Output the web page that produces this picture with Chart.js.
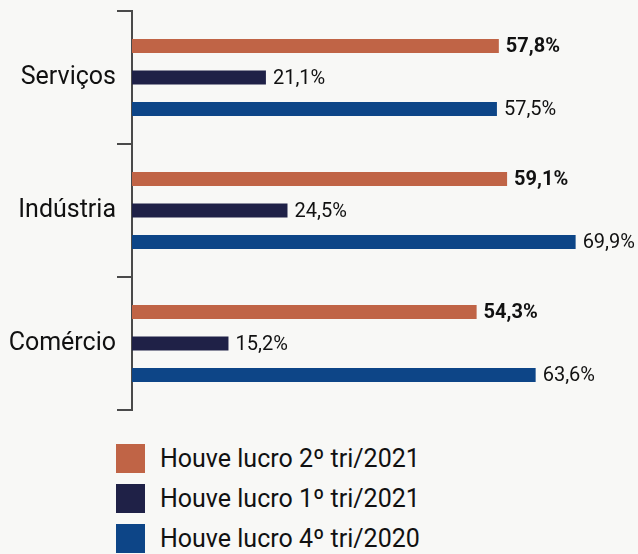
<!DOCTYPE html>
<html>
<head>
<meta charset="utf-8">
<script src="https://cdn.jsdelivr.net/npm/chart.js@4"></script>
<style>
  body { margin: 0; background: #f8f8f6; font-family: Roboto, sans-serif; }
  #wrap { position: relative; width: 638px; height: 554px; overflow: hidden; }
  #box { position: absolute; left: 0; top: 0; width: 638px; height: 420px; }
  #legend { position: absolute; left: 116px; top: 444px; margin: 0; padding: 0; list-style: none; }
  #legend li { display: flex; align-items: center; height: 29px; margin-bottom: 11px; font-size: 25px; color: #111; }
  #legend span.sw { width: 29px; height: 29px; margin-right: 15px; }
</style>
</head>
<body>
<div id="wrap">
  <div id="box"><canvas id="myChart"></canvas></div>
  <ul id="legend"></ul>
</div>
<script>
// categories and series
const categories = ['Serviços', 'Indústria', 'Comércio'];
const seriesNames = ['Houve lucro 2º tri/2021', 'Houve lucro 1º tri/2021', 'Houve lucro 4º tri/2020'];
const lucro2tri2021 = [57.8, 59.1, 54.3];
const lucro1tri2021 = [21.1, 24.5, 15.2];
const lucro4tri2020 = [57.5, 69.9, 63.6];
const colors = ['#c06446', '#1f2147', '#0d4587'];

Chart.defaults.font.family = 'Roboto';
Chart.defaults.color = '#111';

// value labels at the end of each bar, first series in bold
const barLabels = {
    id: 'barLabels',
    afterDatasetsDraw(chart) {
        const ctx = chart.ctx;
        ctx.save();
        ctx.fillStyle = '#111';
        ctx.textBaseline = 'middle';
        ctx.textAlign = 'left';
        chart.data.datasets.forEach((ds, i) => {
            ctx.font = (i === 0 ? 'bold ' : '') + '20px Roboto';
            chart.getDatasetMeta(i).data.forEach((bar, j) => {
                const txt = ds.data[j].toFixed(1).replace('.', ',') + '%';
                ctx.fillText(txt, bar.x + 7, bar.y + 1);
            });
        });
        ctx.restore();
    }
};

const data = {
    labels: categories,
    datasets: [lucro2tri2021, lucro1tri2021, lucro4tri2020].map((vals, i) => ({
        label: seriesNames[i],
        data: vals,
        backgroundColor: colors[i],
        borderWidth: 0,
        categoryPercentage: 0.71,
        barPercentage: 0.44
    }))
};

const config = {
    type: 'bar',
    data,
    options: {
        indexAxis: 'y',
        responsive: true,
        maintainAspectRatio: false,
        animation: false,
        layout: { padding: { top: 11, bottom: 10, left: 0, right: 30 } },
        plugins: {
            legend: { display: false },
            tooltip: { enabled: false }
        },
        scales: {
            x: {
                display: false,
                min: 0,
                max: 75
            },
            y: {
                afterFit: function(scale) {
                    scale.width = 132;
                    scale.paddingTop = 0;
                    scale.paddingBottom = 0;
                },
                border: { display: true, color: '#4a4a4a', width: 2 },
                grid: {
                    drawOnChartArea: false,
                    tickLength: 15,
                    color: '#4a4a4a',
                    lineWidth: 2
                },
                ticks: {
                    padding: 1,
                    color: '#111',
                    font: { size: 25 }
                }
            }
        }
    },
    plugins: [barLabels]
};

const chart = new Chart(document.getElementById('myChart'), config);

// legend as a plain list, one row per series
const legend = document.getElementById('legend');
seriesNames.forEach((name, i) => {
    const li = document.createElement('li');
    li.innerHTML = '<span class="sw" style="background:' + colors[i] + '"></span>' + name;
    legend.appendChild(li);
});
</script>
</body>
</html>
